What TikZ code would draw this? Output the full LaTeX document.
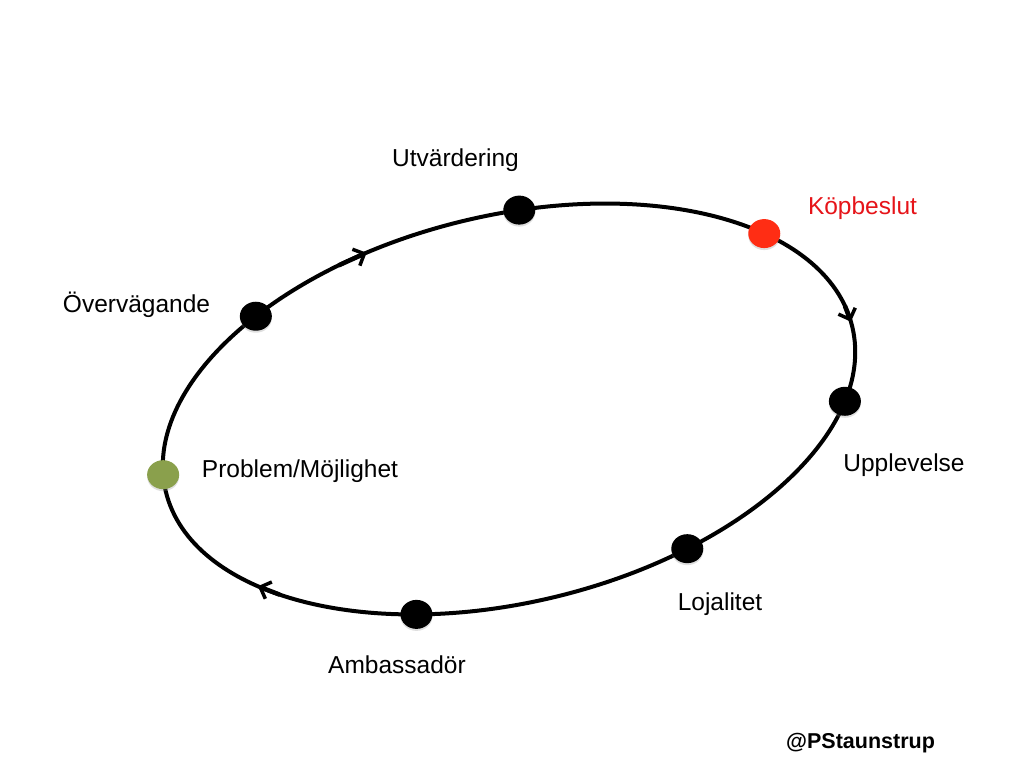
\documentclass[tikz,border=0pt]{standalone}
\usepackage{fontspec}
\setmainfont{Liberation Sans}
\usetikzlibrary{arrows.meta,shapes.geometric,shadows}
\definecolor{redtxt}{RGB}{230,20,25}
\definecolor{reddot}{RGB}{255,45,20}
\definecolor{greendot}{RGB}{138,160,76}
\begin{document}
\begin{tikzpicture}[x=1pt,y=1pt,
  lbl/.style={anchor=base, font=\fontsize{24.5}{28}\selectfont, inner sep=0pt},
  dot/.style={ellipse, minimum width=32pt, minimum height=29pt, inner sep=0pt, fill=black,
    drop shadow={shadow xshift=0pt, shadow yshift=-2pt, opacity=0.25}},
  ring/.style={line width=4pt},
  flow/.style={line width=4.5pt, -{Straight Barb[length=9pt,width=18pt,line width=3.5pt]}}]
\useasboundingbox (0,0) rectangle (1024,776);
\fill[white] (0,0) rectangle (1024,776);
\begin{scope}[shift={(509,367)}, rotate=13.5]
  \draw[ring] (0,0) ellipse [x radius=353, y radius=193.5];
  \coordinate (a1s) at ({353*cos(112)},{193.5*sin(112)});
  \coordinate (a1e) at ({353*cos(106.8)},{193.5*sin(106.8)});
  \coordinate (a2s) at ({353*cos(6.5)},{193.5*sin(6.5)});
  \coordinate (a2e) at ({353*cos(1.5)},{193.5*sin(1.5)});
  \coordinate (a3s) at ({353*cos(221)},{193.5*sin(221)});
  \coordinate (a3e) at ({353*cos(216)},{193.5*sin(216)});
  \draw[flow] (a1s) -- (a1e);
  \draw[flow] (a2s) -- (a2e);
  \draw[flow] (a3s) -- (a3e);
  \node[dot] (utv) at ({353*cos(80.8)},{193.5*sin(80.8)}) {};
  \node[dot, fill=reddot] (kop) at ({353*cos(35)},{193.5*sin(35)}) {};
  \node[dot] (upp) at ({353*cos(-21.5)},{193.5*sin(-21.5)}) {};
  \node[dot] (loj) at ({353*cos(-66.5)},{193.5*sin(-66.5)}) {};
  \node[dot] (amb) at ({353*cos(247)},{193.5*sin(247)}) {};
  \node[dot, fill=greendot] (pro) at ({353*cos(175)},{193.5*sin(175)}) {};
  \node[dot] (ove) at ({353*cos(129.5)},{193.5*sin(129.5)}) {};
\end{scope}
\node[lbl] (tutv) at (455.5,609.5) {Utvärdering};
\node[lbl, text=redtxt] (tkop) at (862.5,561) {Köpbeslut};
\node[lbl] (tove) at (136.5,463) {Övervägande};
\node[lbl] (tpro) at (300,298) {Problem/Möjlighet};
\node[lbl] (tupp) at (904,304) {Upplevelse};
\node[lbl] (tloj) at (720,165) {Lojalitet};
\node[lbl] (tamb) at (397,103) {Ambassadör};
\node[anchor=base, inner sep=0pt, font=\fontsize{21.5}{25}\selectfont\bfseries] (sig) at (860.5,28) {@PStaunstrup};
\end{tikzpicture}
\end{document}
